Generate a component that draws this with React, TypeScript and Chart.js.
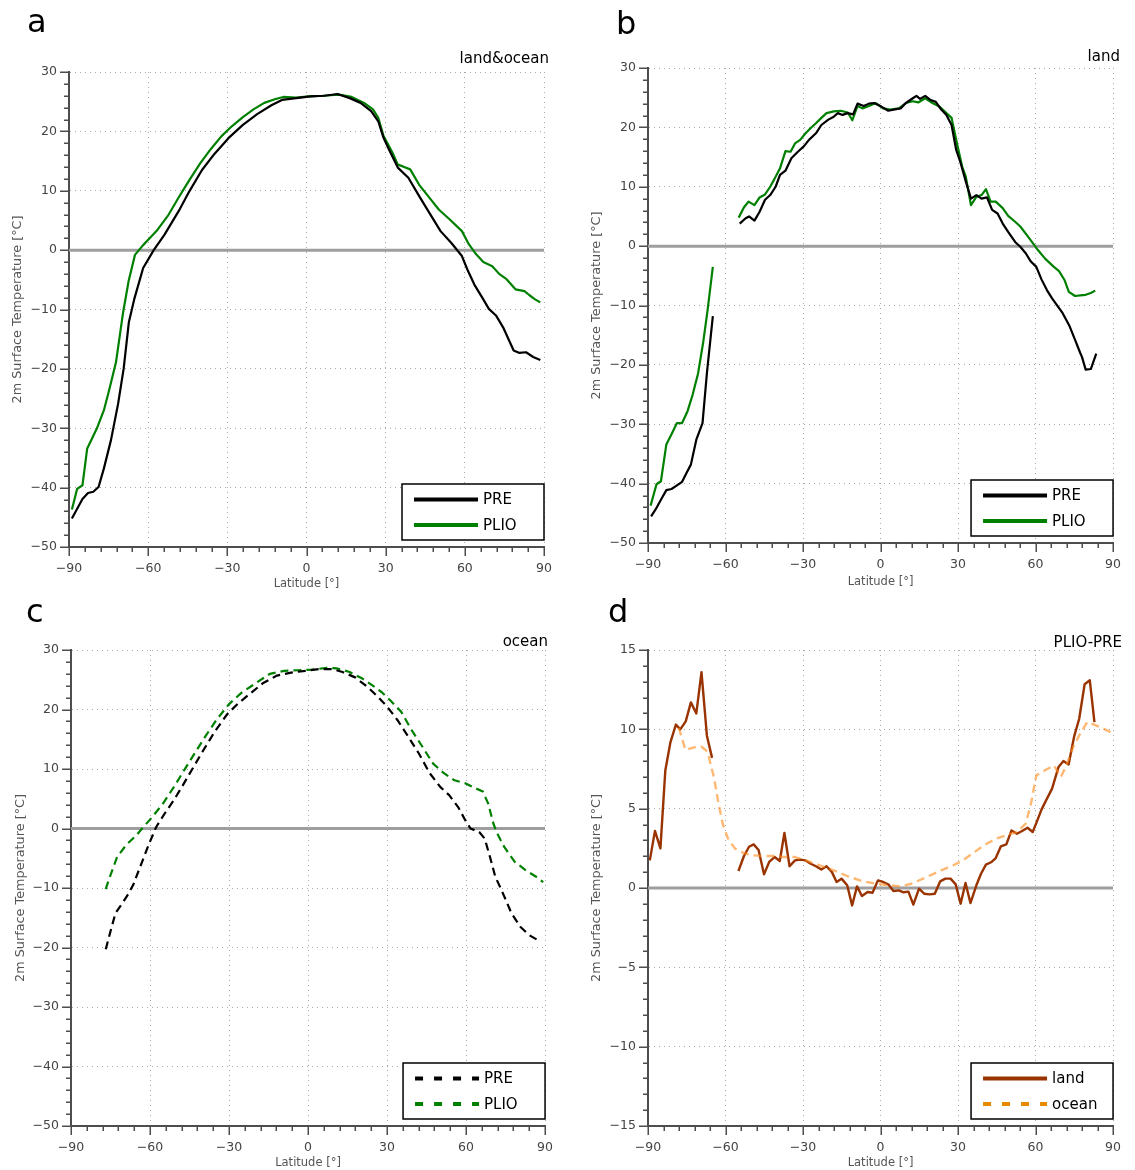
import React, { useEffect, useRef } from "react";
import { Chart, registerables } from "chart.js";

Chart.register(...registerables);
Chart.defaults.font.family = "'DejaVu Sans', sans-serif";

// ---------------- data (latitude in degrees, temperature in °C) ----------------
// panel a : land & ocean
const latPreA = [-88.9, -84.9, -82.8, -80.8, -78.8, -76.8, -74.1, -71.4, -69.3, -67.3, -65.3, -61.9, -57.9, -53.8, -48.4, -44.4, -39.6, -34.9, -29.5, -24.1, -18.7, -13.3, -9.3, -3.9, 1.5, 6.9, 11.7, 16.4, 20.5, 24.5, 27.2, 29.2, 31.3, 34.6, 38.6, 42.7, 46.1, 50.8, 54.9, 58.9, 61.0, 63.6, 67.0, 69.1, 71.8, 74.5, 78.5, 80.5, 83.2, 85.9, 88.6];
const preA = [-45.2, -41.9, -40.9, -40.7, -39.9, -36.8, -32.0, -25.9, -20.0, -12.1, -8.3, -3.0, 0, 2.6, 6.6, 9.9, 13.5, 16.2, 18.9, 21.1, 22.9, 24.4, 25.3, 25.6, 25.9, 26.0, 26.3, 25.6, 24.8, 23.4, 21.7, 18.9, 16.9, 13.9, 12.2, 9.1, 6.6, 3.2, 1.2, -1.0, -3.3, -5.8, -8.3, -9.9, -11.0, -13.0, -16.9, -17.3, -17.2, -18.0, -18.5];
const latPlioA = [-88.9, -86.9, -84.9, -83.1, -79.5, -76.8, -74.8, -72.2, -69.5, -67.4, -65.0, -62.0, -59.9, -56.5, -52.5, -48.4, -44.4, -40.3, -36.3, -32.2, -28.2, -24.1, -20.1, -16.0, -12.0, -8.8, -4.0, 1.0, 6.0, 12.3, 17.1, 21.8, 25.2, 27.2, 29.2, 32.6, 34.6, 36.5, 39.3, 42.7, 46.1, 50.2, 54.2, 58.9, 61.5, 64.3, 67.0, 70.4, 73.0, 75.8, 79.2, 82.6, 84.5, 86.6, 88.6];
const plioA = [-43.7, -40.2, -39.6, -33.4, -30.1, -27.0, -23.6, -18.9, -10.5, -5.2, -0.8, 0.8, 1.8, 3.4, 5.8, 8.9, 11.8, 14.6, 17.0, 19.2, 20.9, 22.4, 23.7, 24.8, 25.4, 25.8, 25.7, 25.9, 26.0, 26.2, 25.8, 24.8, 23.7, 22.3, 19.2, 16.4, 14.4, 14.1, 13.6, 11.0, 9.1, 6.8, 5.2, 3.2, 1.0, -0.7, -2.0, -2.7, -4.0, -4.9, -6.6, -6.9, -7.6, -8.3, -8.8];

// panel b : land (Antarctic segment + rest)
const latPreBSouth = [-88.8, -87.0, -85.0, -82.9, -80.9, -78.8, -76.8, -75.1, -73.4, -71.3, -68.9, -67.2, -64.9];
const preBSouth = [-45.5, -44.3, -42.7, -41.1, -40.9, -40.3, -39.7, -38.2, -36.8, -32.6, -29.8, -21.4, -11.8];
const latPreB = [-54.5, -52.2, -50.9, -48.8, -46.8, -44.7, -42.7, -40.6, -38.9, -36.8, -34.5, -32.0, -29.7, -27.7, -25.0, -22.9, -20.2, -18.1, -16.5, -14.7, -12.7, -10.6, -8.9, -6.5, -4.5, -2.5, 0.3, 3.0, 5.0, 7.8, 9.8, 12.5, 13.9, 15.3, 17.3, 19.4, 21.4, 23.5, 25.5, 27.5, 29.3, 31.0, 33.0, 35.0, 37.1, 39.1, 41.2, 43.2, 45.3, 47.3, 49.4, 52.1, 54.1, 56.2, 58.2, 60.3, 62.3, 64.4, 66.4, 70.5, 73.2, 75.3, 77.3, 78.0, 79.4, 81.4, 83.5];
const preB = [3.8, 4.7, 5.0, 4.3, 5.8, 7.8, 8.6, 10.0, 12.0, 12.7, 14.8, 15.9, 16.8, 17.9, 19.0, 20.4, 21.3, 21.8, 22.4, 22.1, 22.4, 22.2, 24.0, 23.6, 24.0, 24.1, 23.5, 22.8, 23.0, 23.2, 24.1, 24.9, 25.3, 24.8, 25.3, 24.6, 24.3, 23.0, 22.1, 20.4, 16.2, 14.0, 10.9, 8.0, 8.6, 8.0, 8.2, 6.1, 5.5, 3.8, 2.4, 0.7, -0.1, -1.2, -2.6, -3.5, -5.6, -7.4, -8.8, -11.3, -13.5, -15.8, -18.0, -18.7, -20.8, -20.7, -18.1];
const latPlioBSouth = [-89.0, -86.7, -85.0, -82.9, -80.9, -78.8, -76.8, -74.7, -72.7, -70.6, -68.6, -67.0, -64.9];
const plioBSouth = [-43.7, -40.1, -39.6, -33.4, -31.7, -29.8, -29.8, -27.8, -25.0, -21.4, -16.1, -11.0, -3.5];
const latPlioB = [-54.9, -52.9, -51.1, -48.8, -46.8, -44.7, -42.7, -40.6, -38.9, -36.8, -34.8, -33.1, -31.1, -29.0, -27.0, -25.0, -22.9, -20.9, -18.1, -15.4, -12.7, -10.9, -8.9, -7.0, -4.5, -1.8, 1.0, 3.7, 7.1, 9.8, 12.5, 14.6, 17.3, 20.1, 22.8, 25.5, 27.5, 29.6, 31.6, 33.0, 35.0, 37.1, 39.1, 40.8, 42.6, 44.6, 47.3, 49.4, 52.1, 54.1, 57.6, 61.0, 63.7, 67.1, 69.1, 71.2, 72.9, 75.3, 77.3, 79.4, 81.4, 83.1];
const plioB = [4.8, 6.5, 7.5, 6.9, 8.2, 8.7, 10.0, 11.7, 13.1, 16.0, 15.9, 17.3, 17.9, 19.0, 19.9, 20.7, 21.6, 22.4, 22.7, 22.8, 22.5, 21.2, 23.6, 23.2, 23.6, 24.1, 23.2, 23.0, 23.2, 24.1, 24.4, 24.2, 24.9, 24.1, 23.5, 22.4, 21.6, 17.3, 13.4, 11.7, 6.9, 8.3, 8.6, 9.6, 7.5, 7.5, 6.4, 5.1, 4.1, 3.3, 1.3, -0.7, -2.1, -3.5, -4.2, -5.7, -7.7, -8.4, -8.3, -8.2, -7.9, -7.5];

// panel c : ocean
const latPreC = [-76.8, -75.2, -73.1, -70.4, -68.4, -66.4, -63.7, -60.3, -57.6, -54.3, -50.9, -47.5, -44.2, -40.1, -35.4, -30.7, -26.6, -21.9, -17.2, -11.8, -6.4, -1.0, 4.4, 9.1, 13.1, 17.9, 22.6, 26.6, 30.0, 34.0, 38.1, 42.1, 46.2, 50.2, 53.6, 57.0, 59.7, 61.7, 65.0, 67.1, 69.1, 71.1, 73.1, 74.5, 77.2, 80.6, 83.9, 87.0];
const preC = [-20.3, -17.6, -14.2, -12.5, -11.1, -9.5, -6.4, -2.5, 0.3, 2.6, 4.8, 7.3, 9.8, 12.9, 16.3, 19.2, 21.0, 22.7, 24.4, 25.7, 26.2, 26.5, 26.8, 26.8, 26.3, 25.4, 23.8, 22.1, 20.5, 18.2, 15.4, 12.6, 9.3, 7.0, 5.6, 3.6, 1.4, 0, -0.6, -1.7, -4.8, -8.1, -10.0, -11.4, -14.2, -16.5, -17.9, -18.7];
const latPlioC = [-76.8, -75.8, -72.5, -69.1, -65.1, -63.0, -59.0, -54.9, -50.9, -46.9, -42.8, -38.8, -34.7, -30.0, -25.3, -19.9, -14.5, -9.1, -3.8, 1.7, 7.1, 11.1, 15.8, 20.6, 24.6, 28.0, 31.3, 35.4, 39.4, 43.5, 47.5, 51.6, 55.6, 59.7, 62.4, 66.4, 68.4, 70.4, 71.8, 74.5, 78.5, 82.6, 86.6, 89.3];
const plioC = [-10.2, -8.8, -4.8, -2.8, -1.1, 0, 2.0, 4.3, 7.0, 9.9, 12.8, 15.6, 18.3, 20.9, 22.8, 24.4, 26.0, 26.5, 26.6, 26.7, 27.0, 26.9, 26.3, 25.2, 24.0, 22.9, 21.5, 19.6, 16.5, 13.7, 10.9, 9.3, 8.1, 7.6, 7.0, 6.2, 4.2, 0.8, -0.8, -3.1, -5.6, -7.0, -8.1, -9.0];

// panel d : PLIO-PRE difference
const latLandSouth = [-89.3, -87.3, -85.2, -83.3, -81.3, -79.2, -77.5, -75.4, -73.4, -71.3, -69.3, -67.2, -65.2];
const landSouth = [1.74, 3.6, 2.5, 7.4, 9.2, 10.3, 10.0, 10.5, 11.7, 11.0, 13.6, 9.6, 8.2];
const latLand = [-55.0, -52.9, -50.9, -49.1, -47.2, -45.1, -43.1, -41.0, -39.0, -37.2, -35.2, -33.1, -31.1, -29.0, -27.0, -25.0, -22.9, -20.9, -18.8, -17.0, -15.1, -12.9, -11.0, -9.1, -7.2, -5.0, -3.1, -1.0, 1.0, 3.0, 5.0, 7.1, 8.9, 10.8, 12.7, 14.9, 16.9, 19.0, 21.0, 23.1, 25.1, 27.1, 29.1, 31.0, 32.9, 34.8, 37.1, 38.9, 40.8, 43.0, 44.6, 46.6, 48.7, 50.7, 52.8, 54.8, 56.9, 58.9, 60.7, 62.3, 64.4, 66.4, 68.9, 70.8, 72.8, 74.9, 76.9, 79.0, 81.0, 82.8];
const landDiff = [1.07, 2.0, 2.6, 2.75, 2.4, 0.86, 1.64, 1.95, 1.7, 3.47, 1.37, 1.74, 1.79, 1.74, 1.53, 1.37, 1.16, 1.37, 1.0, 0.38, 0.59, 0.17, -1.1, 0.1, -0.5, -0.25, -0.3, 0.48, 0.38, 0.23, -0.19, -0.15, -0.27, -0.23, -1.05, -0.04, -0.36, -0.4, -0.36, 0.42, 0.59, 0.59, 0.23, -0.99, 0.32, -0.95, 0.17, 0.9, 1.47, 1.64, 1.89, 2.63, 2.75, 3.63, 3.42, 3.59, 3.8, 3.53, 4.26, 4.94, 5.63, 6.26, 7.63, 8.0, 7.79, 9.52, 10.67, 12.84, 13.09, 10.46];
const latOcean = [-78.1, -75.5, -71.5, -69.3, -67.0, -64.5, -62.9, -61.1, -59.0, -56.3, -52.9, -49.5, -45.4, -41.3, -37.2, -33.1, -29.0, -23.6, -18.1, -12.7, -7.2, -1.8, 3.7, 7.8, 11.9, 17.3, 22.8, 28.2, 32.3, 36.4, 40.5, 44.6, 48.7, 52.8, 56.2, 58.2, 60.3, 63.7, 67.1, 69.8, 71.9, 74.6, 77.3, 80.0, 83.4, 86.9, 89.3];
const oceanDiff = [10.1, 8.7, 8.9, 8.9, 8.6, 7.0, 5.5, 4.05, 3.1, 2.48, 2.2, 2.06, 2.02, 2.02, 1.95, 1.95, 1.74, 1.43, 1.11, 0.74, 0.44, 0.27, 0.17, 0.1, 0.27, 0.65, 1.07, 1.43, 1.79, 2.27, 2.73, 3.1, 3.32, 3.53, 4.05, 5.3, 7.1, 7.42, 7.73, 7.0, 7.73, 8.9, 9.73, 10.46, 10.25, 10.0, 9.8];

// labels
const panelLetters = ["a", "b", "c", "d"];
const panelTitles = ["land&ocean", "land", "ocean", "PLIO-PRE"];
const runLabels = ["PRE", "PLIO"];
const diffLabels = ["land", "ocean"];
const xTitle = "Latitude [°]";
const yTitle = "2m Surface Temperature [°C]";
const latTicks = { min: -90, max: 90, step: 30, minor: 6 };

// ---------------- styles ----------------
const C_PRE = "#000000";
const C_PLIO = "#008000";
const C_LAND = "#993300";
const C_OCEAN = "rgba(255,140,30,0.62)";
const C_OCEAN_KEY = "#e68a00";
const GRID = "#a8a8a8";
const AXIS = "#4d4d4d";
const DASH_PLOT = [8, 5];
const DASH_KEY = [8, 11];

interface Series { lat: number[]; val: number[]; color: string; dash: number[]; width: number; }
interface LegendItem { label: string; color: string; dash: number[]; }
interface PanelSpec {
  letter: string; title: string;
  left: number; top: number; width: number; height: number;
  area: { l: number; t: number; r: number; b: number };
  yMin: number; yMax: number; yStep: number; yMinor: number;
  letterX: number; letterY: number; titleX: number; titleY: number;
  yTitlePad: number; xTitlePad: number;
  series: Series[]; legend: LegendItem[];
}

const W = 2.2;
const panels: PanelSpec[] = [
  {
    letter: panelLetters[0], title: panelTitles[0],
    left: 0, top: 0, width: 567, height: 600,
    area: { l: 69, t: 72, r: 544, b: 547 },
    yMin: -50, yMax: 30, yStep: 10, yMinor: 2,
    letterX: 27, letterY: 32, titleX: 549, titleY: 63,
    yTitlePad: 10, xTitlePad: 9,
    series: [
      { lat: latPreA, val: preA, color: C_PRE, dash: [], width: W },
      { lat: latPlioA, val: plioA, color: C_PLIO, dash: [], width: W },
    ],
    legend: [
      { label: runLabels[0], color: C_PRE, dash: [] },
      { label: runLabels[1], color: C_PLIO, dash: [] },
    ],
  },
  {
    letter: panelLetters[1], title: panelTitles[1],
    left: 567, top: 0, width: 568, height: 600,
    area: { l: 81, t: 68, r: 555, b: 543 },
    yMin: -50, yMax: 30, yStep: 10, yMinor: 2,
    letterX: 49, letterY: 34, titleX: 553, titleY: 61,
    yTitlePad: 21.5, xTitlePad: 11.5,
    series: [
      { lat: latPreBSouth, val: preBSouth, color: C_PRE, dash: [], width: W },
      { lat: latPreB, val: preB, color: C_PRE, dash: [], width: W },
      { lat: latPlioBSouth, val: plioBSouth, color: C_PLIO, dash: [], width: W },
      { lat: latPlioB, val: plioB, color: C_PLIO, dash: [], width: W },
    ],
    legend: [
      { label: runLabels[0], color: C_PRE, dash: [] },
      { label: runLabels[1], color: C_PLIO, dash: [] },
    ],
  },
  {
    letter: panelLetters[2], title: panelTitles[2],
    left: 0, top: 585, width: 567, height: 600,
    area: { l: 71, t: 65, r: 548, b: 541 },
    yMin: -50, yMax: 30, yStep: 10, yMinor: 2,
    letterX: 26, letterY: 37, titleX: 548, titleY: 61,
    yTitlePad: 13, xTitlePad: 15,
    series: [
      { lat: latPreC, val: preC, color: C_PRE, dash: DASH_PLOT, width: W },
      { lat: latPlioC, val: plioC, color: C_PLIO, dash: DASH_PLOT, width: W },
    ],
    legend: [
      { label: runLabels[0], color: C_PRE, dash: DASH_KEY },
      { label: runLabels[1], color: C_PLIO, dash: DASH_KEY },
    ],
  },
  {
    letter: panelLetters[3], title: panelTitles[3],
    left: 567, top: 585, width: 568, height: 600,
    area: { l: 81, t: 65, r: 555, b: 541 },
    yMin: -15, yMax: 15, yStep: 5, yMinor: 1,
    letterX: 41, letterY: 37, titleX: 555, titleY: 62,
    yTitlePad: 21.5, xTitlePad: 15,
    series: [
      { lat: latOcean, val: oceanDiff, color: C_OCEAN, dash: DASH_PLOT, width: 2.4 },
      { lat: latLandSouth, val: landSouth, color: C_LAND, dash: [], width: 2.4 },
      { lat: latLand, val: landDiff, color: C_LAND, dash: [], width: 2.4 },
    ],
    legend: [
      { label: diffLabels[0], color: C_LAND, dash: [] },
      { label: diffLabels[1], color: C_OCEAN_KEY, dash: DASH_KEY },
    ],
  },
];

const fmt = (v: number | string) => {
  const n = Number(v);
  return n < 0 ? "\u2212" + Math.abs(n) : String(n);
};

function makeDecor(spec: PanelSpec) {
  return {
    id: "decor",
    beforeDatasetsDraw(chart: any) {
      const { ctx, chartArea: ca, scales } = chart;
      const y0 = scales.y.getPixelForValue(0);
      ctx.save();
      ctx.strokeStyle = "#9e9e9e";
      ctx.lineWidth = 3;
      ctx.beginPath();
      ctx.moveTo(ca.left, y0);
      ctx.lineTo(ca.right, y0);
      ctx.stroke();
      ctx.restore();
    },
    afterDraw(chart: any) {
      const { ctx, chartArea: ca, scales } = chart;
      ctx.save();
      ctx.strokeStyle = AXIS;
      ctx.lineWidth = 1.5;
      const isMajor = (v: number, step: number) => Math.abs(v / step - Math.round(v / step)) < 1e-6;
      for (let v = latTicks.min; v <= latTicks.max + 1e-9; v += latTicks.minor) {
        const px = Math.round(scales.x.getPixelForValue(v)) + 0.25;
        const len = isMajor(v, latTicks.step) ? 9 : 5;
        ctx.beginPath();
        ctx.moveTo(px, ca.bottom);
        ctx.lineTo(px, ca.bottom + len);
        ctx.stroke();
      }
      for (let v = spec.yMin; v <= spec.yMax + 1e-9; v += spec.yMinor) {
        const py = Math.round(scales.y.getPixelForValue(v)) + 0.25;
        const len = isMajor(v, spec.yStep) ? 9 : 5;
        ctx.beginPath();
        ctx.moveTo(ca.left, py);
        ctx.lineTo(ca.left - len, py);
        ctx.stroke();
      }
      ctx.fillStyle = "#000";
      ctx.textBaseline = "alphabetic";
      ctx.textAlign = "left";
      ctx.font = "32px 'DejaVu Sans'";
      ctx.fillText(spec.letter, spec.letterX, spec.letterY);
      ctx.textAlign = "right";
      ctx.font = "15px 'DejaVu Sans'";
      ctx.fillText(spec.title, spec.titleX, spec.titleY);
      const bw = 142, bh = 56;
      const bx = ca.right - bw, by = ca.bottom - 7 - bh;
      ctx.fillStyle = "#fff";
      ctx.fillRect(bx, by, bw, bh);
      ctx.strokeStyle = "#000";
      ctx.lineWidth = 1.5;
      ctx.strokeRect(bx, by, bw, bh);
      spec.legend.forEach((item, i) => {
        const ly = by + 15.5 + i * 25.5;
        ctx.strokeStyle = item.color;
        ctx.lineWidth = 4;
        ctx.setLineDash(item.dash);
        ctx.beginPath();
        ctx.moveTo(bx + 12, ly);
        ctx.lineTo(bx + 76, ly);
        ctx.stroke();
        ctx.setLineDash([]);
        ctx.fillStyle = "#000";
        ctx.textAlign = "left";
        ctx.textBaseline = "middle";
        ctx.font = "15px 'DejaVu Sans'";
        ctx.fillText(item.label, bx + 81, ly + 1);
      });
      ctx.restore();
    },
  };
}

function Panel({ spec }: { spec: PanelSpec }) {
  const ref = useRef<HTMLCanvasElement | null>(null);
  useEffect(() => {
    if (!ref.current) return;
    const chart = new Chart(ref.current, {
      type: "line",
      data: {
        datasets: spec.series.map((s) => ({
          data: s.lat.map((x, i) => ({ x, y: s.val[i] })),
          borderColor: s.color,
          backgroundColor: s.color,
          borderWidth: s.width,
          borderDash: s.dash,
          borderCapStyle: "butt",
          borderJoinStyle: "round",
          pointRadius: 0,
          pointHoverRadius: 0,
          fill: false,
          tension: 0,
        })),
      },
      options: {
        responsive: false,
        animation: false,
        devicePixelRatio: 1,
        events: [],
        layout: { padding: { left: 0, top: spec.area.t, right: spec.width - spec.area.r, bottom: 0 } },
        plugins: { legend: { display: false }, tooltip: { enabled: false } },
        scales: {
          x: {
            type: "linear",
            min: latTicks.min,
            max: latTicks.max,
            afterFit: (s: any) => { s.height = spec.height - spec.area.b; },
            ticks: {
              stepSize: latTicks.step, autoSkip: false, maxRotation: 0, padding: 14,
              color: "#444", font: { size: 12.5 }, callback: (v: any) => fmt(v),
            },
            grid: {
              drawTicks: false, lineWidth: 1,
              color: (c: any) => (c.tick && c.tick.value === latTicks.min ? "rgba(0,0,0,0)" : GRID),
            },
            border: { display: true, color: AXIS, width: 2, dash: [1, 4] },
            title: { display: true, text: xTitle, color: "#555", font: { size: 11.5 }, padding: { top: 0, bottom: spec.xTitlePad } },
          },
          y: {
            type: "linear",
            min: spec.yMin,
            max: spec.yMax,
            afterFit: (s: any) => { s.width = spec.area.l; },
            ticks: {
              stepSize: spec.yStep, autoSkip: false, padding: 12,
              color: "#444", font: { size: 12.5 }, callback: (v: any) => fmt(v),
            },
            grid: {
              drawTicks: false, lineWidth: 1,
              color: (c: any) => (c.tick && c.tick.value === spec.yMin ? "rgba(0,0,0,0)" : GRID),
            },
            border: { display: true, color: AXIS, width: 2, dash: [1, 4] },
            title: { display: true, text: yTitle, color: "#555", font: { size: 12.8 }, padding: { top: spec.yTitlePad, bottom: 0 } },
          },
        },
      } as any,
      plugins: [makeDecor(spec)],
    });
    return () => chart.destroy();
  }, [spec]);
  return (
    <canvas
      ref={ref}
      width={spec.width}
      height={spec.height}
      style={{ position: "absolute", left: spec.left, top: spec.top, width: spec.width, height: spec.height }}
    />
  );
}

export default function App() {
  return (
    <div style={{ position: "absolute", left: 0, top: 0, width: 1135, height: 1170, overflow: "hidden", background: "#fff" }}>
      {panels.map((p) => (
        <Panel key={p.letter} spec={p} />
      ))}
    </div>
  );
}
